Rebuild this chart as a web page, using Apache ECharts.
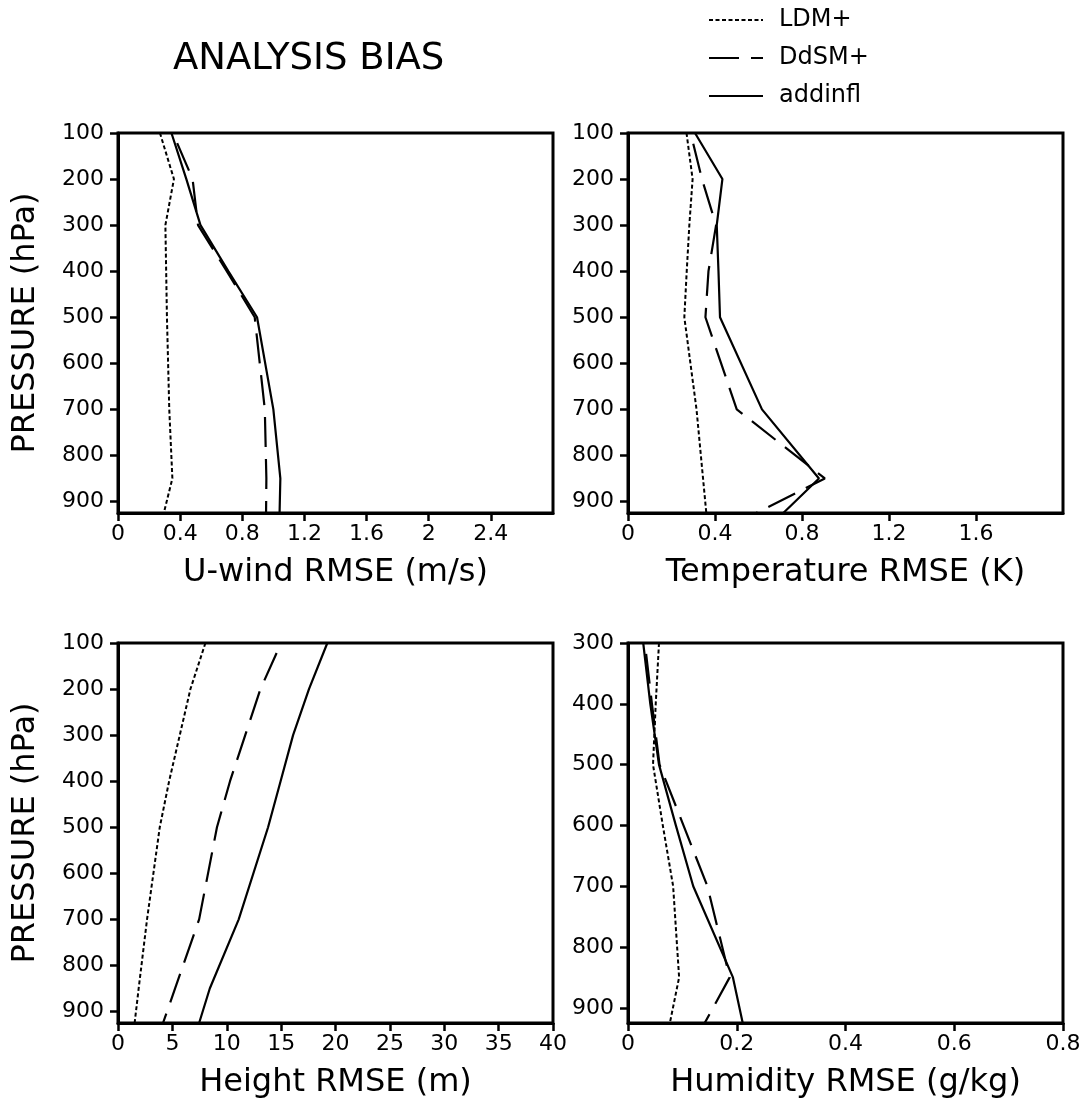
<!DOCTYPE html>
<html>
<head>
<meta charset="utf-8">
<script src="https://cdn.jsdelivr.net/npm/echarts@6/dist/echarts.min.js"></script>
<style>html,body{margin:0;padding:0;background:#fff;}#c{width:1084px;height:1108px;}</style>
</head>
<body>
<div id="c"></div>
<script>
// ---- data ----
const levels = [100, 200, 300, 400, 500, 700, 850, 925];
const humLevels = [300, 400, 500, 600, 700, 850, 925];

const uLDM  = [0.27, 0.36, 0.305, 0.31, 0.315, 0.33, 0.35, 0.295];
const uDdSM = [0.353, 0.48, 0.515, 0.70, 0.88, 0.945, 0.955, 0.953];
const uAdd  = [0.344, 0.44, 0.531, 0.71, 0.895, 1.0, 1.045, 1.04];

const tLDM  = [0.269, 0.297, 0.282, 0.27, 0.259, 0.315, 0.345, 0.36];
const tDdSM = [0.288, 0.34, 0.405, 0.37, 0.356, 0.5, 0.905, 0.59];
const tAdd  = [0.308, 0.434, 0.408, 0.416, 0.423, 0.616, 0.878, 0.714];

const hLDM  = [8.04, 6.66, 5.68, 4.7, 3.84, 2.67, 1.9, 1.53];
const hDdSM = [15.0, 13.1, 11.7, 10.3, 9.1, 7.46, 5.25, 4.14];
const hAdd  = [19.25, 17.56, 16.1, 14.95, 13.8, 11.1, 8.44, 7.46];

const qLDM  = [0.057, 0.051, 0.046, 0.064, 0.083, 0.094, 0.077];
const qDdSM = [0.031, 0.044, 0.058, 0.102, 0.146, 0.187, 0.141];
const qAdd  = [0.028, 0.041, 0.057, 0.088, 0.12, 0.193, 0.211];

const seriesNames = ['LDM+', 'DdSM+', 'addinfl'];
const xNames = ['U-wind RMSE (m/s)', 'Temperature RMSE (K)', 'Height RMSE (m)', 'Humidity RMSE (g/kg)'];
const yName = 'PRESSURE (hPa)';
const title = 'ANALYSIS BIAS';

const xTicksU = [0, 0.4, 0.8, 1.2, 1.6, 2, 2.4];
const xTicksT = [0, 0.4, 0.8, 1.2, 1.6];
const xTicksH = [0, 5, 10, 15, 20, 25, 30, 35, 40];
const xTicksQ = [0, 0.2, 0.4, 0.6, 0.8];
const yTicks = [100, 200, 300, 400, 500, 600, 700, 800, 900];
const yTicksQ = [300, 400, 500, 600, 700, 800, 900];

// ---- build chart ----
const FONT = 'DejaVu Sans';
const panels = [
  {left: 118, top: 133, xmin: 0, xmax: 2.8, xt: xTicksU, ymin: 100, yt: yTicks, lv: levels, d: [uLDM, uDdSM, uAdd], yname: true},
  {left: 628, top: 133, xmin: 0, xmax: 2.0, xt: xTicksT, ymin: 100, yt: yTicks, lv: levels, d: [tLDM, tDdSM, tAdd], yname: false},
  {left: 118, top: 643, xmin: 0, xmax: 40, xt: xTicksH, ymin: 100, yt: yTicks, lv: levels, d: [hLDM, hDdSM, hAdd], yname: true},
  {left: 628, top: 643, xmin: 0, xmax: 0.8, xt: xTicksQ, ymin: 300, yt: yTicksQ, lv: humLevels, d: [qLDM, qDdSM, qAdd], yname: false}
];

const styles = [
  {width: 2, type: [4, 2.5], dashOffset: 0},
  {width: 2.2, type: [30, 12], dashOffset: 31},
  {width: 2.2, type: 'solid', dashOffset: 0}
];

const grid = [], xAxis = [], yAxis = [], series = [];
panels.forEach((p, i) => {
  grid.push({left: p.left, top: p.top, width: 435, height: 380, show: true,
    borderColor: '#000', borderWidth: 3, backgroundColor: 'transparent', containLabel: false});
  xAxis.push({type: 'value', gridIndex: i, min: p.xmin, max: p.xmax,
    name: xNames[i], nameLocation: 'middle', nameGap: 44,
    nameTextStyle: {fontFamily: FONT, fontSize: 32, color: '#000'},
    axisLine: {show: true, lineStyle: {color: '#000', width: 3}},
    axisTick: {show: true, inside: false, length: 8, lineStyle: {color: '#000', width: 2.5}, customValues: p.xt},
    axisLabel: {show: true, customValues: p.xt, margin: 10, fontFamily: FONT, fontSize: 22, color: '#000'},
    splitLine: {show: false}});
  yAxis.push({type: 'value', gridIndex: i, min: p.ymin, max: 925, inverse: true,
    name: p.yname ? yName : '', nameLocation: 'middle', nameRotate: 90, nameGap: 76,
    nameTextStyle: {fontFamily: FONT, fontSize: 32, color: '#000'},
    axisLine: {show: true, lineStyle: {color: '#000', width: 3}},
    axisTick: {show: true, inside: false, length: 8, lineStyle: {color: '#000', width: 2.5}, customValues: p.yt},
    axisLabel: {show: true, customValues: p.yt, margin: 14, fontFamily: FONT, fontSize: 22, color: '#000'},
    splitLine: {show: false}});
  p.d.forEach((vals, k) => {
    series.push({type: 'line', name: seriesNames[k], xAxisIndex: i, yAxisIndex: i,
      data: vals.map((v, j) => [v, p.lv[j]]),
      symbol: 'none', showSymbol: false, animation: false, silent: true,
      lineStyle: {color: '#000', width: styles[k].width, type: styles[k].type, dashOffset: styles[k].dashOffset},
      itemStyle: {color: '#000'}});
  });
});

const chart = echarts.init(document.getElementById('c'), null, {renderer: 'canvas'});
chart.setOption({
  backgroundColor: '#fff',
  animation: false,
  title: {text: title, left: 168, top: 36, textStyle: {fontFamily: FONT, fontSize: 37, fontWeight: 'normal', color: '#000'}},
  legend: {data: seriesNames, orient: 'vertical', left: 703, top: 3, itemWidth: 54, itemHeight: 14, itemGap: 14,
    selectedMode: false,
    itemStyle: {color: 'transparent', borderColor: 'transparent', borderWidth: 0, opacity: 0},
    lineStyle: {dashOffset: 0},
    textStyle: {fontFamily: FONT, fontSize: 24, color: '#000', padding: [0, 0, 0, 11]}},
  grid, xAxis, yAxis, series
});
</script>
</body>
</html>
